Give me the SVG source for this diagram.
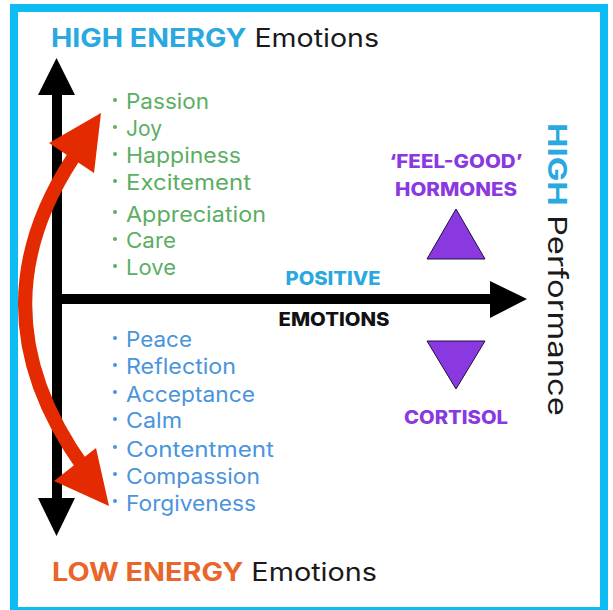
<svg xmlns="http://www.w3.org/2000/svg" width="613" height="610" viewBox="0 0 613 610">
<style>
text{font-family:"Inter","Open Sans","Liberation Sans",sans-serif}
.head{font-size:25px}
.strong{font-weight:700}
.li{font-size:21px}
.g{fill:#5cae63}
.b{fill:#4a94dc}
.lab{font-size:18.5px;font-weight:800;text-anchor:middle}
.p{fill:#8a38e0}
.tri{fill:#8a38e0;stroke:#1d1040;stroke-width:1}
</style>
<rect width="613" height="610" fill="#fff"/>
<rect id="frame" x="14" y="8" width="590" height="603" fill="#fff" stroke="#0dbcf2" stroke-width="8"/>
<g id="connectors">
<g id="axis-vertical" fill="#000">
<rect x="52" y="90" width="10" height="415"/>
<polygon points="56.500,58 75,95 38,95"/>
<polygon points="56.500,536 75,498 38,498"/>
</g>
<g id="axis-horizontal" fill="#000">
<rect x="52" y="294" width="442" height="10"/>
<polygon points="527,299 490,281 490,318"/>
</g>
<g id="energy-arrow" fill="#e32a00">
<path d="M73 158Q-28 312 84 468" fill="none" stroke="#e32a00" stroke-width="14"/>
<polygon points="101,113 49,143 94,173"/>
<polygon points="109,506 54,481 96,448"/>
</g>
</g>
<g id="title-high"><text class="head" x="51" y="47" textLength="328" lengthAdjust="spacingAndGlyphs"><tspan class="strong" fill="#2aa8e0">HIGH ENERGY</tspan><tspan fill="#1a1a1a"> Emotions</tspan></text></g>
<g id="title-low"><text class="head" x="52" y="581" textLength="325" lengthAdjust="spacingAndGlyphs"><tspan class="strong" fill="#e8662a">LOW ENERGY</tspan><tspan fill="#1a1a1a"> Emotions</tspan></text></g>
<g id="high-list" class="g li">
<circle cx="115" cy="100" r="2"/><text x="126" y="109" textLength="83" lengthAdjust="spacingAndGlyphs">Passion</text>
<circle cx="115" cy="127" r="2"/><text x="126" y="136" textLength="36" lengthAdjust="spacingAndGlyphs">Joy</text>
<circle cx="115" cy="154" r="2"/><text x="126" y="163" textLength="115" lengthAdjust="spacingAndGlyphs">Happiness</text>
<circle cx="115" cy="181" r="2"/><text x="126" y="190" textLength="125" lengthAdjust="spacingAndGlyphs">Excitement</text>
<circle cx="115" cy="212" r="2"/><text x="126" y="222" textLength="140" lengthAdjust="spacingAndGlyphs">Appreciation</text>
<circle cx="115" cy="239" r="2"/><text x="126" y="248" textLength="50" lengthAdjust="spacingAndGlyphs">Care</text>
<circle cx="115" cy="266" r="2"/><text x="126" y="275" textLength="50" lengthAdjust="spacingAndGlyphs">Love</text>
</g>
<g id="low-list" class="b li">
<circle cx="115" cy="338" r="2"/><text x="126" y="347" textLength="66" lengthAdjust="spacingAndGlyphs">Peace</text>
<circle cx="115" cy="365" r="2"/><text x="126" y="374" textLength="110" lengthAdjust="spacingAndGlyphs">Reflection</text>
<circle cx="115" cy="392" r="2"/><text x="126" y="402" textLength="129" lengthAdjust="spacingAndGlyphs">Acceptance</text>
<circle cx="115" cy="419" r="2"/><text x="126" y="428" textLength="56" lengthAdjust="spacingAndGlyphs">Calm</text>
<circle cx="115" cy="447" r="2"/><text x="126" y="457" textLength="148" lengthAdjust="spacingAndGlyphs">Contentment</text>
<circle cx="115" cy="474" r="2"/><text x="126" y="484" textLength="134" lengthAdjust="spacingAndGlyphs">Compassion</text>
<circle cx="115" cy="501" r="2"/><text x="126" y="511" textLength="130" lengthAdjust="spacingAndGlyphs">Forgiveness</text>
</g>
<g id="label-positive"><text class="lab" x="333" y="285" fill="#2aa8e0" textLength="95" lengthAdjust="spacingAndGlyphs">POSITIVE</text></g>
<g id="label-emotions"><text class="lab" x="334" y="326" fill="#111" textLength="111" lengthAdjust="spacingAndGlyphs">EMOTIONS</text></g>
<g id="hormones">
<text class="lab p" x="456" y="168" textLength="133" lengthAdjust="spacingAndGlyphs">‘FEEL-GOOD’</text>
<text class="lab p" x="456" y="196" textLength="122" lengthAdjust="spacingAndGlyphs">HORMONES</text>
<polygon class="tri" points="456,209 485,259 427,259"/>
</g>
<g id="cortisol">
<polygon class="tri" points="427,341 485,341 456,389"/>
<text class="lab p" x="456" y="424" textLength="104" lengthAdjust="spacingAndGlyphs">CORTISOL</text>
</g>
<g id="performance"><text transform="translate(548 123) rotate(90)" font-size="26" textLength="293" lengthAdjust="spacingAndGlyphs"><tspan class="strong" fill="#2aa8e0">HIGH</tspan><tspan fill="#1a1a1a"> Performance</tspan></text></g>
</svg>
